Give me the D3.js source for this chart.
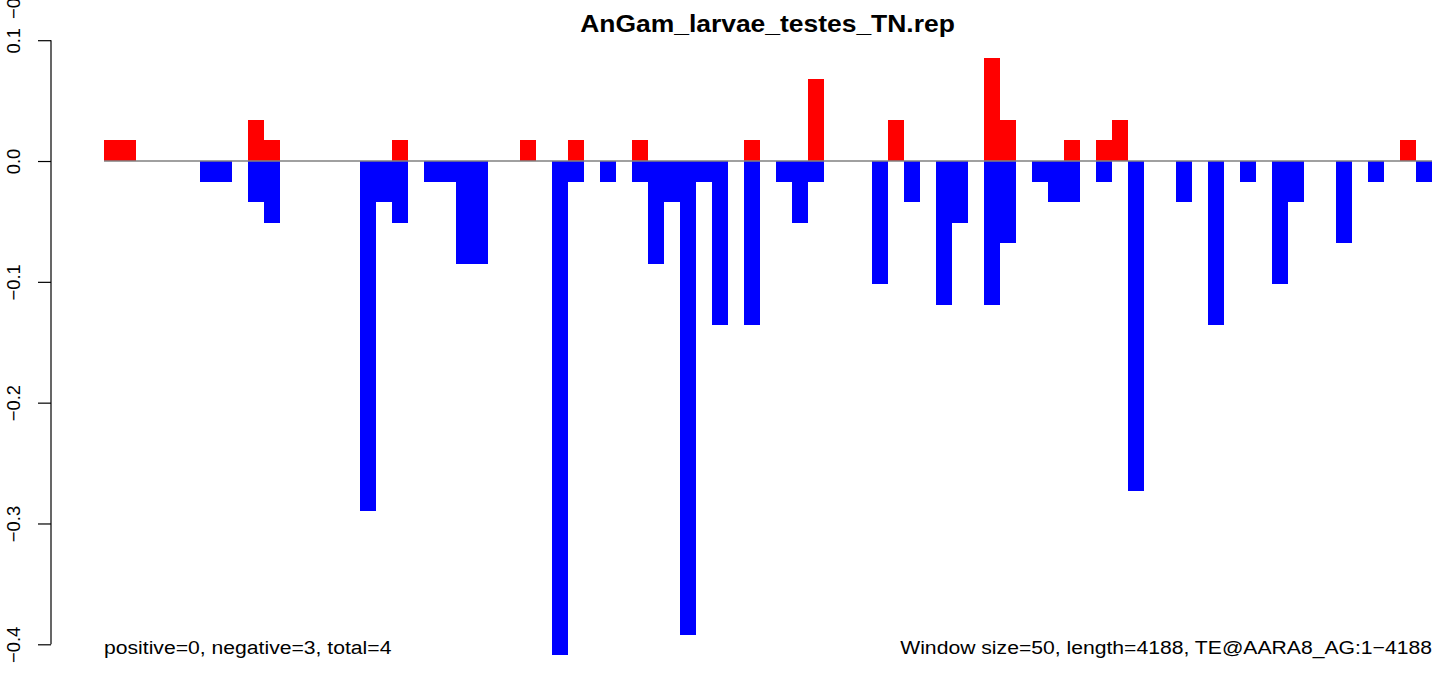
<!DOCTYPE html>
<html>
<head>
<meta charset="utf-8">
<script src="https://cdn.jsdelivr.net/npm/d3@7"></script>
<style>
  html, body { margin: 0; padding: 0; background: #ffffff; }
  svg { display: block; font-family: "Liberation Sans", Arial, Helvetica, sans-serif; }
</style>
</head>
<body>
<svg id="chart" width="1444" height="677"></svg>
<script>
// Signal per 50 bp window along TE@AARA8_AG (83 windows)
const windowIndex = d3.range(83);

// positive-strand values (red, above zero)
const positiveValues = [
  0.017, 0.017, 0, 0, 0, 0, 0, 0, 0, 0.034,
  0.017, 0, 0, 0, 0, 0, 0, 0, 0.017, 0,
  0, 0, 0, 0, 0, 0, 0.017, 0, 0, 0.017,
  0, 0, 0, 0.017, 0, 0, 0, 0, 0, 0,
  0.017, 0, 0, 0, 0.068, 0, 0, 0, 0, 0.034,
  0, 0, 0, 0, 0, 0.085, 0.034, 0, 0, 0,
  0.017, 0, 0.017, 0.034, 0, 0, 0, 0, 0, 0,
  0, 0, 0, 0, 0, 0, 0, 0, 0, 0,
  0, 0.017, 0
];

// negative-strand values (blue, below zero)
const negativeValues = [
  0, 0, 0, 0, 0, 0, -0.017, -0.017, 0, -0.034,
  -0.051, 0, 0, 0, 0, 0, -0.290, -0.034, -0.051, 0,
  -0.017, -0.017, -0.085, -0.085, 0, 0, 0, 0, -0.409, -0.017,
  0, -0.017, 0, -0.017, -0.085, -0.034, -0.392, -0.017, -0.136, 0,
  -0.136, 0, -0.017, -0.051, -0.017, 0, 0, 0, -0.102, 0,
  -0.034, 0, -0.119, -0.051, 0, -0.119, -0.068, 0, -0.017, -0.034,
  -0.034, 0, -0.017, 0, -0.273, 0, 0, -0.034, 0, -0.136,
  0, -0.017, 0, -0.102, -0.034, 0, 0, -0.068, 0, -0.017,
  0, 0, -0.017
];

const yTicks = [-0.4, -0.3, -0.2, -0.1, 0.0, 0.1];
const yTickLabels = ["\u22120.4", "\u22120.3", "\u22120.2", "\u22120.1", "0.0", "0.1"];

const titleText = "AnGam_larvae_testes_TN.rep";
const leftNote = "positive=0, negative=3, total=4";
const rightNote = "Window size=50, length=4188, TE@AARA8_AG:1\u22124188";
const clippedLabel = "\u22120.5";

const svg = d3.select("#chart");
const textStretch = 1.15;

const x = d3.scaleBand().domain(windowIndex).range([104, 1432]).padding(0);
const y = d3.scaleLinear().domain([-0.4, 0.1]).range([644.3, 40.2]);

// bars
const bars = svg.append("g");
bars.selectAll("rect.pos")
  .data(windowIndex.filter(i => positiveValues[i] !== 0))
  .join("rect")
  .attr("class", "pos")
  .attr("x", i => x(i))
  .attr("width", x.bandwidth())
  .attr("y", i => y(positiveValues[i]))
  .attr("height", i => y(0) - y(positiveValues[i]))
  .attr("fill", "#ff0000")
  .attr("shape-rendering", "crispEdges");

bars.selectAll("rect.neg")
  .data(windowIndex.filter(i => negativeValues[i] !== 0))
  .join("rect")
  .attr("class", "neg")
  .attr("x", i => x(i))
  .attr("width", x.bandwidth())
  .attr("y", y(0))
  .attr("height", i => y(negativeValues[i]) - y(0))
  .attr("fill", "#0000ff")
  .attr("shape-rendering", "crispEdges");

// zero baseline
svg.append("line")
  .attr("x1", x.range()[0]).attr("x2", x.range()[1])
  .attr("y1", y(0)).attr("y2", y(0))
  .attr("stroke", "#808080")
  .attr("stroke-width", 1.3);

// y axis
const yAxis = d3.axisLeft(y)
  .tickValues(yTicks)
  .tickSize(13)
  .tickFormat((d, i) => yTickLabels[i]);

const axisG = svg.append("g")
  .attr("transform", "translate(51,0)")
  .call(yAxis);
axisG.select(".domain")
  .attr("d", `M0,${y(-0.4)}V${y(0.1)}`)
  .attr("stroke", "#000").attr("stroke-width", 1.2);
axisG.selectAll(".tick line").attr("stroke", "#000").attr("stroke-width", 1.2);
axisG.selectAll(".tick text")
  .attr("x", null).attr("dy", null)
  .attr("font-size", 18.4)
  .attr("fill", "#000")
  .attr("text-anchor", "middle")
  .attr("transform", "translate(-31,0) rotate(-90)");

// partially visible label at the top-left edge
svg.append("text")
  .attr("transform", "translate(20,19) rotate(-90)")
  .attr("text-anchor", "start")
  .attr("font-size", 18.4)
  .attr("fill", "#000")
  .text(clippedLabel);

// title
svg.append("text")
  .attr("transform", `translate(767.5,32) scale(${textStretch},1)`)
  .attr("text-anchor", "middle")
  .attr("font-size", 23)
  .attr("font-weight", "bold")
  .attr("fill", "#000")
  .text(titleText);

// footnotes
svg.append("text")
  .attr("transform", `translate(104,654) scale(${textStretch},1)`)
  .attr("text-anchor", "start")
  .attr("font-size", 18.4)
  .attr("fill", "#000")
  .text(leftNote);

svg.append("text")
  .attr("transform", `translate(1432,654) scale(${textStretch},1)`)
  .attr("text-anchor", "end")
  .attr("font-size", 18.4)
  .attr("fill", "#000")
  .text(rightNote);
</script>
</body>
</html>
